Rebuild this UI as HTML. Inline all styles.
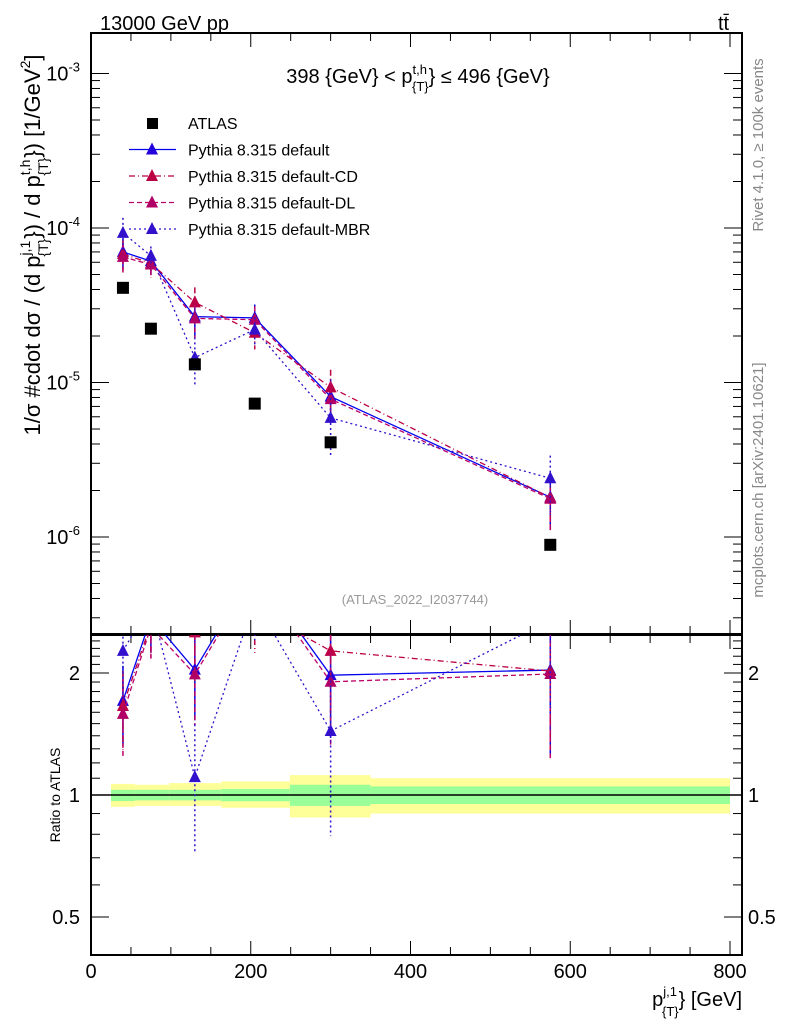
<!DOCTYPE html>
<html><head><meta charset="utf-8"><style>
body{margin:0;background:#fff}
svg{display:block;font-family:"Liberation Sans",sans-serif}
</style></head><body>
<svg id="c" width="786" height="1024" viewBox="0 0 786 1024" xmlns="http://www.w3.org/2000/svg">
<defs>
<clipPath id="cm"><rect x="91" y="33" width="651" height="601"/></clipPath>
<clipPath id="cr"><rect x="91" y="635" width="651" height="320"/></clipPath>
</defs>
<text x="100" y="30" font-size="20">13000 GeV pp</text>
<text x="718" y="30" font-size="20">tt̄</text>
<text x="418" y="83" font-size="20" text-anchor="middle">398 {GeV} &lt; p<tspan font-size="13" dy="-9">t,h</tspan><tspan font-size="13" dx="-15" dy="17">{T}</tspan><tspan dy="-8">} ≤ 496 {GeV}</tspan></text>
<text transform="translate(40,245) rotate(-90)" font-size="22" text-anchor="middle">1/σ #cdot dσ / (d p<tspan font-size="14" dy="-10">j,1</tspan><tspan font-size="14" dy="18" dx="-16">{T}</tspan><tspan dy="-8">}) / d p</tspan><tspan font-size="14" dy="-10">t,h</tspan><tspan font-size="14" dy="18" dx="-16">{T}</tspan><tspan dy="-8">}) [1/GeV</tspan><tspan font-size="14" dy="-10">2</tspan><tspan dy="10">]</tspan></text>
<text transform="translate(60,795) rotate(-90)" font-size="14" text-anchor="middle">Ratio to ATLAS</text>
<text transform="translate(763,145) rotate(-90)" font-size="15" fill="#888" text-anchor="middle">Rivet 4.1.0, ≥ 100k events</text>
<text transform="translate(763,480) rotate(-90)" font-size="15" fill="#888" text-anchor="middle">mcplots.cern.ch [arXiv:2401.10621]</text>
<text x="415" y="604" font-size="13" fill="#999" text-anchor="middle">(ATLAS_2022_I2037744)</text>
<text x="742" y="1006" font-size="20" text-anchor="end">p<tspan font-size="13" dy="-10">j,1</tspan><tspan font-size="13" dx="-15" dy="20">{T}</tspan><tspan dy="-10">} [GeV]</tspan></text>
<g id="bands" clip-path="url(#cr)"></g>
<g id="axes"></g>
<g id="mainMarks" clip-path="url(#cm)"></g>
<g id="ratioMarks" clip-path="url(#cr)"></g>
<g id="legend"></g>
</svg>
<script>
const xCenters=[40,75,130,205,300,575];
const atlas=[4.1e-5,2.23e-5,1.31e-5,7.3e-6,4.1e-6,8.9e-7];
const pyDefault=[7.0e-5,6.1e-5,2.67e-5,2.62e-5,8.1e-6,1.81e-6];
const pyCD=[6.8e-5,5.9e-5,3.3e-5,2.1e-5,9.3e-6,1.8e-6];
const pyDL=[6.5e-5,5.8e-5,2.6e-5,2.55e-5,7.8e-6,1.77e-6];
const pyMBR=[9.3e-5,6.6e-5,1.45e-5,2.2e-5,5.9e-6,2.4e-6];
const relErrDefault=[0.22,0.18,0.25,0.22,0.3,0.38];
const relErrMBR=[0.25,0.15,0.35,0.2,0.45,0.4];
const binEdges=[25,55,98,163,249,350,800];
const bandYellowUp=[0.065,0.06,0.07,0.08,0.12,0.10];
const bandYellowDn=[0.065,0.06,0.06,0.07,0.12,0.10];
const bandGreenUp=[0.03,0.03,0.03,0.035,0.06,0.05];
const bandGreenDn=[0.034,0.03,0.03,0.035,0.06,0.05];
const xTicks=[0,200,400,600,800];
const mainTicks=[-3,-4,-5,-6];
const ratioTicks=[0.5,1,2];

const NS="http://www.w3.org/2000/svg";
const X=v=>91+v*(639/800);
const Ym=v=>73.5-(Math.log10(v)+3)*154.5;
const Yr=v=>795-Math.log2(v)*122;
function mk(tag,at,parent){const e=document.createElementNS(NS,tag);for(const k in at)e.setAttribute(k,at[k]);parent.appendChild(e);return e;}
const axes=document.getElementById('axes');
let f=mk('rect',{x:91,y:33,width:651,height:601,fill:'none',stroke:'#000','stroke-width':2},axes);


f=mk('rect',{x:91,y:635,width:651,height:320,fill:'none',stroke:'#000','stroke-width':2},axes);


for(let v=0;v<=800;v+=50){const big=v%200===0;const L=big?14:8;const x=X(v);
 mk('line',{x1:x,x2:x,y1:955,y2:955-L,stroke:'#000'},axes);
 mk('line',{x1:x,x2:x,y1:635,y2:635+L,stroke:'#000'},axes);
 mk('line',{x1:x,x2:x,y1:634,y2:634-L,stroke:'#000'},axes);
 mk('line',{x1:x,x2:x,y1:33,y2:33+L,stroke:'#000'},axes);}
xTicks.forEach(v=>{const t=mk('text',{x:X(v),y:978,'font-size':20,'text-anchor':'middle'},axes);t.textContent=v;
 
 });
for(let d=-7;d<=-2;d++){for(let m=1;m<10;m++){const v=m*Math.pow(10,d);const y=Ym(v);if(y<33||y>634)continue;const L=m===1?18:9;
 mk('line',{x1:91,x2:91+L,y1:y,y2:y,stroke:'#000'},axes);mk('line',{x1:742,x2:742-L,y1:y,y2:y,stroke:'#000'},axes);}}
mainTicks.forEach(d=>{const t=mk('text',{x:80,y:Ym(Math.pow(10,d))+7,'font-size':20,'text-anchor':'end'},axes);
 t.innerHTML='10<tspan font-size="13" dy="-9">'+d+'</tspan>';
 
 });
for(let v=0.4;v<=2.5;v+=0.1){const y=Yr(v);if(y<635||y>955)continue;const major=[0.5,1,2].some(m=>Math.abs(m-v)<1e-6);const L=major?18:9;
 mk('line',{x1:91,x2:91+L,y1:y,y2:y,stroke:'#000'},axes);mk('line',{x1:742,x2:742-L,y1:y,y2:y,stroke:'#000'},axes);}
ratioTicks.forEach(v=>{let t=mk('text',{x:80,y:Yr(v)+7,'font-size':20,'text-anchor':'end'},axes);t.textContent=v;
 
 
 t=mk('text',{x:748,y:Yr(v)+7,'font-size':20},axes);t.textContent=v;
 
 });
const bands=document.getElementById('bands');
for(let i=0;i<6;i++){const x1=X(binEdges[i]),x2=X(binEdges[i+1]);
 let r=mk('rect',{x:x1,width:x2-x1,y:Yr(1+bandYellowUp[i]),height:Yr(1-bandYellowDn[i])-Yr(1+bandYellowUp[i]),fill:'#ffff99'},bands);
 
 
 r=mk('rect',{x:x1,width:x2-x1,y:Yr(1+bandGreenUp[i]),height:Yr(1-bandGreenDn[i])-Yr(1+bandGreenUp[i]),fill:'#99ff99'},bands);
 
 }
mk('line',{x1:91,x2:742,y1:Yr(1),y2:Yr(1),stroke:'#000','stroke-width':1.5},bands);
const series=[
 {name:'default',vals:pyDefault,err:relErrDefault,col:'#0000ee',dash:'',mc:'#2200dd'},
 {name:'default-cd',vals:pyCD,err:relErrDefault,col:'#bb0044',dash:'6,3,1,3',mc:'#bb0044'},
 {name:'default-dl',vals:pyDL,err:relErrDefault,col:'#bb0066',dash:'5,3',mc:'#b00066'},
 {name:'default-mbr',vals:pyMBR,err:relErrMBR,col:'#3311cc',dash:'2,3',mc:'#3311cc'}];
const mainG=document.getElementById('mainMarks'),ratG=document.getElementById('ratioMarks');
function tri(x,y,c,parent){return mk('path',{d:`M${x-6},${y+5}L${x+6},${y+5}L${x},${y-7}Z`,fill:c},parent);}
series.forEach(s=>{
 [[mainG,v=>Ym(v),1],[ratG,v=>Yr(v),0]].forEach(([g,Y,isMain])=>{
  const vs=s.vals.map((v,i)=>isMain?v:v/atlas[i]);
  const p=mk('polyline',{points:vs.map((v,i)=>X(xCenters[i])+','+Y(v)).join(' '),fill:'none',stroke:s.col,'stroke-width':1.3,'stroke-dasharray':s.dash},g);
  
  
  vs.forEach((v,i)=>{const x=X(xCenters[i]);
   const e=mk('line',{x1:x,x2:x,y1:Y(v*(1+s.err[i])),y2:Y(v*(1-s.err[i])),stroke:s.col,'stroke-width':1.5,'stroke-dasharray':s.dash},g);
   
   
   const t=tri(x,Y(v),s.mc,g);
   
   });
 });});
atlas.forEach((v,i)=>{const r=mk('rect',{x:X(xCenters[i])-6,y:Ym(v)-6,width:12,height:12,fill:'#000'},mainG);
 
 });
const lg=document.getElementById('legend');
const labels=['ATLAS','Pythia 8.315 default','Pythia 8.315 default-CD','Pythia 8.315 default-DL','Pythia 8.315 default-MBR'];
labels.forEach((l,i)=>{const y=123+i*26.5;
 const g=mk('g',{},lg);
 
 
 if(i===0)mk('rect',{x:147,y:y-5,width:11,height:11,fill:'#000'},g);
 else{const s=series[i-1];mk('line',{x1:129,x2:176,y1:y,y2:y,stroke:s.col,'stroke-width':1.3,'stroke-dasharray':s.dash},g);tri(152,y,s.mc,g);}
 const t=mk('text',{x:188,y:y+6,'font-size':16},g);t.textContent=l;});
</script>
</body></html>
